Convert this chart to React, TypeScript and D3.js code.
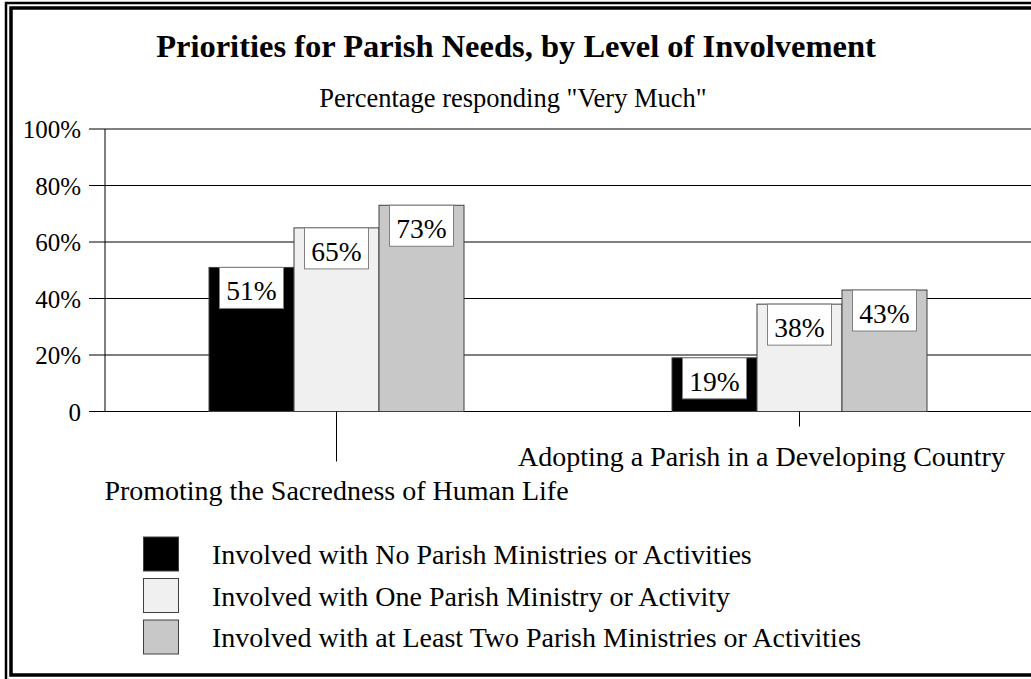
import React from "react";
import * as d3 from "d3";

const categories = ["Promoting the Sacredness of Human Life", "Adopting a Parish in a Developing Country"];
const seriesNames = [
  "Involved with No Parish Ministries or Activities",
  "Involved with One Parish Ministry or Activity",
  "Involved with at Least Two Parish Ministries or Activities",
];
const noneValues = [51, 19];
const oneValues = [65, 38];
const twoValues = [73, 43];
const seriesValues = [noneValues, oneValues, twoValues];
const seriesColors = ["#000000", "#f0f0f0", "#c8c8c8"];
const yTicks = [0, 20, 40, 60, 80, 100];
const yTickLabels = ["0", "20%", "40%", "60%", "80%", "100%"];

const W = 1031;
const H = 679;
const FONT = "Liberation Serif";
const ts = { fontFamily: FONT };

export default function App() {
  const left = 105;
  const right = 1031;
  const top = 129;
  const bottom = 411.5;

  const x0 = d3.scaleBand<string>().domain(categories).range([left, right]).padding(0);
  const barW = 85;
  const x1 = d3
    .scaleBand<number>()
    .domain([0, 1, 2])
    .range([-barW * 1.5, barW * 1.5])
    .padding(0);
  const y = d3.scaleLinear().domain([0, 100]).range([bottom, top]);

  const tickLen = [50, 15];
  const labelY = [500, 466];
  const labelShift = [0, -38];

  const boxW = 64;
  const boxH = 41;

  return (
    <svg
      width={W}
      height={H}
      style={{ position: "absolute", left: 0, top: 0, background: "#fff" }}
    >
      <rect x={0} y={0} width={W} height={H} fill="#fff" />
      <rect x={6} y={3} width={1100} height={700} fill="none" stroke="#000" strokeWidth={2.5} />
      <rect x={11} y={8} width={1100} height={667} fill="none" stroke="#000" strokeWidth={3.5} />

      <text x={516} y={57} textAnchor="middle" fontSize={32.5} fontWeight="bold" style={ts}>
        Priorities for Parish Needs, by Level of Involvement
      </text>
      <text x={513} y={107} textAnchor="middle" fontSize={26.5} style={ts}>
        Percentage responding "Very Much"
      </text>

      {yTicks.map((t, i) => (
        <g key={t}>
          <line x1={89} x2={right} y1={y(t)} y2={y(t)} stroke="#000" strokeWidth={1} />
          <text x={81} y={y(t) + 9} textAnchor="end" fontSize={25} style={ts}>
            {yTickLabels[i]}
          </text>
        </g>
      ))}
      <line x1={left} x2={left} y1={top} y2={bottom} stroke="#000" strokeWidth={1} />

      {categories.map((c, ci) => {
        const cx = x0(c)! + x0.bandwidth() / 2;
        return (
          <g key={c}>
            {seriesValues.map((vals, si) => {
              const bx = cx + x1(si)!;
              const v = vals[ci];
              return (
                <rect
                  key={si}
                  x={bx}
                  y={y(v)}
                  width={x1.bandwidth()}
                  height={bottom - y(v)}
                  fill={seriesColors[si]}
                  stroke="#404040"
                  strokeWidth={1}
                />
              );
            })}
            {seriesValues.map((vals, si) => {
              const bcx = cx + x1(si)! + x1.bandwidth() / 2;
              const v = vals[ci];
              return (
                <g key={"l" + si}>
                  <rect
                    x={bcx - boxW / 2}
                    y={y(v)}
                    width={boxW}
                    height={boxH}
                    fill="#fff"
                    stroke="#808080"
                    strokeWidth={1}
                  />
                  <text x={bcx} y={y(v) + 33} textAnchor="middle" fontSize={27.5} style={ts}>
                    {v}%
                  </text>
                </g>
              );
            })}
            <line x1={cx} x2={cx} y1={bottom} y2={bottom + tickLen[ci]} stroke="#000" strokeWidth={1} />
            <text x={cx + labelShift[ci]} y={labelY[ci]} textAnchor="middle" fontSize={28} style={ts}>
              {c}
            </text>
          </g>
        );
      })}

      {seriesNames.map((n, i) => {
        const sy = 537 + i * 41.5;
        return (
          <g key={n}>
            <rect x={143.5} y={sy} width={35} height={34} fill={seriesColors[i]} stroke="#404040" strokeWidth={1} />
            <text x={212} y={sy + 27} fontSize={28} style={ts}>
              {n}
            </text>
          </g>
        );
      })}
    </svg>
  );
}
